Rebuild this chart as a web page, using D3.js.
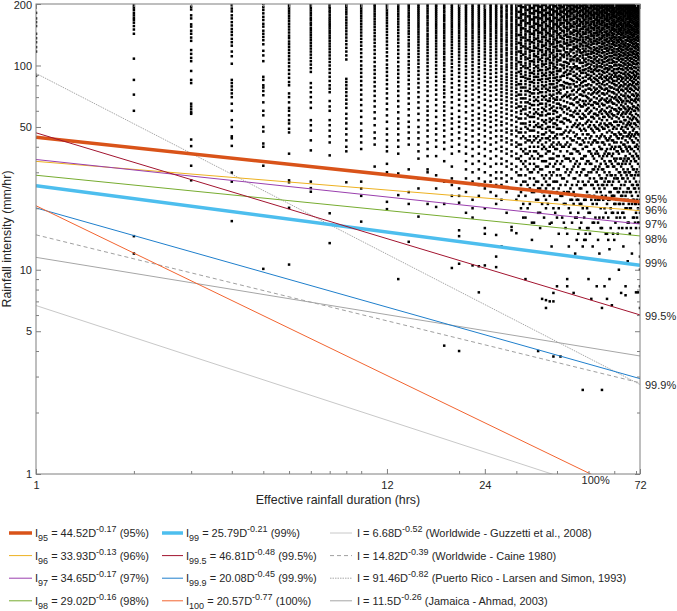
<!DOCTYPE html>
<html>
<head>
<meta charset="utf-8">
<script src="https://cdn.jsdelivr.net/npm/d3@7"></script>
<style>
body{margin:0;background:#fff}
text{font-family:"Liberation Sans",Arial,sans-serif;fill:#262626}
</style>
</head>
<body>
<svg width="677" height="611"></svg>
<script>
// fitted threshold lines  I = a * D^b
const fitLabels = ['95','96','97','98','99','99.5','99.9','100'];
const fitA = [44.52,33.93,34.65,29.02,25.79,46.81,20.08,20.57];
const fitB = [-0.17,-0.13,-0.17,-0.16,-0.21,-0.48,-0.45,-0.77];
// published thresholds
const refA = ['6.68','14.82','91.46','11.5'];
const refB = [-0.52,-0.39,-0.82,-0.26];
const refNames = ['Worldwide - Guzzetti et al., 2008','Worldwide - Caine 1980',
  'Puerto Rico - Larsen and Simon, 1993','Jamaica - Ahmad, 2003'];
const xTicks = [1,12,24,72];
const xMinor = [2,3,4,5,6,7,8,9,10,20,30,40,50,60,70];
const yTicks = [1,5,10,50,100,200];
const yMinor = [2,3,4,6,7,8,9,20,30,40,60,70,80,90];

// observed events: duration (hrs) -> intensities (mm/hr)
const scatterDurations = [1,2,3,4,5,6,7,8,9,10,11,12,13,14,15,16,17,18,19,20,21,22,23,24,
  25,26,27,28,29,30,31,32,33,34,35,36,37,38,39,40,41,42,43,44,45,46,47,48,49,50,
  51,52,53,54,55,56,57,58,59,60,61,62,63,64,65,66,67,68,69,70,71,72,
  30.5,31.5,32.5,33.5,34.5,35.5,36.5,37.5,38.5,39.5,40.5,41.5,42.5,43.5,44.5,45.5,
  46.5,47.5,48.5,49.5,50.5,51.5,52.5,53.5,54.5,55.5,56.5,57.5,58.5,59.5,60.5,61.5,
  62.5,63.5,64.5,65.5,66.5,67.5,68.5,69.5,70.5,71.5];
const scatterIntensities = [
"181 170 163 156 143 136 130 123 117 89",
"197 192 187 181 176 171 167 162 156 150 143 108 85 72 60 14.6 12",
"194 188 176 170 159 155 148 143 137 132 119 114 109 105 94 85 82 65 63 61 59 58 43.4 40.3 32.3 27.4",
"197 190 184 176 170 163 157 151 146 141 135 130 125 117 111 102 85 82 79 76 73 70 65 60 54 50 45 44 40.4 29.9 27 17.3",
"200 193 187 180 173 167 160 155 148 143 138 133 127 118 112 105 88 85 80 78 75 71.5 66 60 57 50 47.5 41.5 40 32.3 10.1",
"200 195 190 185 180 175 170 165 160 155 150 145 140 136 131 127 123 119 115 111 107 103 99 95 91 87 83 80 73 70 66 62 60 57 54 52 49 47 37 27.4 26.8 20.1 10.6",
"200 196 191 186 181 176 171 167 162 158 153 149 145 141 137 133 129 125 121 117 113 109 105 101 97 93 82 78 74 70 66 62 54 51 48 43 38.4 27 25.1 24.1",
"200 195 191 186 182 177 172 168 164 160 156 152 148 144 140 136 132 128 124 120 116 112 108 104 100 96 92 88 84 80 77 74 67 63 60 54 51 48 45 42 36.3 18.9 13.5",
"198 193 188 183 178 172 167 162 157 152 147 142 137 132 127 122 117 112 107 86 83 80 77 74 71 68 65 62 58 55 52 49 46 43 40 38 26.8",
"200 195 190 185 180 175 170 165 160 155 150 145 140 135 130 125 120 115 110 105 100 96 92 88 84 80 76 72 68 64 60 56 52 48 45 42 39 27 25 23 17.2",
"198 194 189 184 179 174 169 164 159 154 149 144 139 134 129 124 119 114 109 104 99 95 91 87 83 79 75 71 67 63 59 55 51 47 44 41 32",
"200 196 191 186 181 176 171 166 161 156 151 146 141 136 131 126 121 116 111 106 101 97 93 89 85 81 77 73 69 65 61 57 53 49 46 43 40 38 33 30 21.5 19.8",
"199 194 189 184 179 174 169 164 159 154 149 144 139 134 129 124 119 114 109 104 99 95 91 87 83 79 75 71 67 63 59 55 52 49 46 43 40 37 29.6 23.2 9",
"200 196 191 186 181 176 172 167 162 157 152 147 143 138 133 128 124 119 114 110 105 101 97 93 89 85 81 77 73 69 65 61 57 53 50 47 44 41 31 24 21 13.7",
"198 194 190 186 182 178 174 170 166 162 158 154 150 146 142 138 134 130 126 122 118 114 110 106 102 98 94 90 86 82 78 74 70 66 62 58 54 50 47 44 41 38 35 28 25 18.2",
"200 195 190 185 180 175 171 166 161 157 152 148 143 139 135 131 127 123 119 115 111 107 103 99 95 91 87 83 79 75 71 67 63 60 57 54 51 48 45 42 39 36 31 30 21",
"199 196 192 188 184 180 176 172 168 164 160 156 152 148 144 140 136 132 128 124 120 116 112 108 104 100 96 92 88 84 80 76 72 68 64 60 56 52 49 46 43 40 36 29 25 20.3",
"200 195 191 186 182 177 173 169 165 160 156 152 148 144 140 136 132 128 125 121 117 114 110 107 103 100 96 93 89 86 83 79 76 73 70 66 63 60 57 54 51 48 45 42 39 34 27 21 4.25",
"198 194 190 186 182 178 174 170 166 162 158 154 150 146 142 138 134 130 126 122 118 114 110 106 102 98 94 90 86 82 78 74 70 66 62 58 55 52 49 46 43 40 37 32 28 26 23 10.2",
"200 196 192 188 184 180 176 172 168 164 160 156 152 148 144 140 136 132 128 124 120 116 112 108 104 100 96 92 88 84 80 76 72 68 64 60 56 53 50 47 44 41 38 25 23 21.3 15.6 14.6 10.7 4",
"199 195 191 187 183 179 175 171 167 163 159 155 151 147 143 139 135 131 127 123 119 115 111 107 103 99 95 91 87 83 79 75 71 67 63 59 55 52 49 46 43 40 37 34 31 28 24 19",
"200 196 192 188 184 180 176 172 168 164 160 156 152 148 144 140 136 132 128 124 120 116 112 108 104 100 96 92 88 84 80 76 72 68 64 60 57 54 51 48 45 42 39 36 33 30 27 22 20 18 10.5",
"198 194 190 186 182 178 174 170 166 162 158 154 150 146 142 138 134 130 126 122 118 114 110 106 102 98 94 90 86 82 78 74 70 66 62 58 55 52 49 46 43 40 37 34 31 28 26 23 10.4 7.75",
"200 196 192 188 184 180 176 172 168 164 160 156 152 148 144 140 136 132 128 124 120 116 112 108 104 100 96 92 88 84 80 76 72 68 64 60 57 54 51 48 45 42 39 36 33 30 27 25 20 16 15 10.5",
"199 195 191 187 183 179 175 171 167 163 159 155 151 147 143 139 135 131 127 123 119 115 111 107 103 99 95 91 87 83 79 75 71 67 63 59 56 53 50 47 44 41 38 35 32 29 27 24",
"200 196 192 188 184 180 176 172 168 164 160 156 152 148 144 140 136 132 128 124 120 116 112 108 104 100 96 92 88 84 80 76 72 68 64 60 57 54 51 48 45 42 39 36 33 30 28 26 23 21 14.8 11.6 10.3",
"199 194 190 185 181 176 173 168 164 159 155 151 147 143 139 135 132 128 124 120 117 113 110 106 103 99 96 93 89 86 83 80 77 74 71 68 65 62 59 56 53 51 48 45 43 40 38 35 33 30 28 26 22 13",
"197 193 188 184 179 175 171 166 162 158 154 150 145 141 137 133 130 126 122 119 115 112 108 105 101 98 95 91 88 85 82 79 76 73 70 67 64 61 58 55 52 49 47 44 42 39 37 34 32 29 27 24 19",
"200 195 191 187 182 178 173 169 165 160 156 152 148 144 140 136 132 128 125 121 117 114 110 107 103 100 97 93 90 87 84 81 78 75 72 69 66 63 60 57 54 51 48 46 43 41 38 36 33 31 28 16.2 15.6",
"198 194 189 185 180 176 172 167 163 159 155 151 147 143 139 135 131 127 123 120 116 113 109 106 102 99 96 92 89 86 83 80 77 74 71 68 65 62 59 56 53 50 48 45 42 40 37 35 32 30 27 25 22 15.1",
"200 196 192 187 183 178 174 170 165 161 157 153 149 145 141 137 133 129 126 122 118 115 111 108 104 101 97 94 91 88 84 81 78 75 72 69 66 63 60 58 55 52 49 47 44 41 39 36 34 31 29 26 24 20",
"199 194 190 186 181 177 172 168 164 160 156 151 147 143 140 136 132 128 124 121 117 114 110 107 103 100 97 93 90 87 84 81 78 75 72 69 66 63 61 58 55 52 50 47 44 42 39 37 34 32 29 27 23 18 9",
"197 193 189 184 180 175 171 167 163 159 154 150 146 142 138 134 131 127 123 119 116 112 109 105 102 99 95 92 89 86 83 80 77 74 71 68 65 62 59 56 53 51 48 45 43 40 38 35 33 30 28 25 21",
"200 195 191 186 182 178 173 169 165 161 157 153 148 144 141 137 133 129 125 122 118 114 111 107 104 101 97 94 91 88 85 82 79 76 73 70 67 64 61 58 56 53 50 48 45 43 40 38 35 33 31 28 26 24 17",
"198 194 189 185 181 176 172 168 164 160 156 152 148 144 140 136 132 128 125 121 117 114 110 107 104 100 97 94 91 88 85 82 79 76 73 70 67 64 61 58 55 52 50 47 45 42 40 37 35 32 30 27 25 22 19 4",
"200 196 191 187 182 178 174 170 166 161 157 153 149 145 142 138 134 130 126 123 119 116 112 109 105 102 99 95 92 89 86 83 80 77 74 71 68 65 62 59 57 54 51 49 46 44 41 39 36 34 31 29 26 24 21 7.2",
"199 195 190 186 181 177 173 169 165 160 156 152 148 145 141 137 133 129 126 122 118 115 112 108 105 102 98 95 92 89 86 83 80 77 74 71 68 65 63 60 57 54 52 49 47 44 42 39 37 34 32 29 27 25 22 20 7.1 6.5",
"197 193 189 184 180 176 171 167 163 159 155 151 147 143 139 135 131 128 124 120 117 113 110 106 103 100 97 93 90 87 84 81 78 75 72 69 67 64 61 58 55 53 50 48 45 43 40 38 35 33 30 28 26 23 16.8 7",
"200 196 192 187 183 179 174 170 166 162 158 154 150 146 142 138 134 130 127 123 119 116 112 109 106 102 99 96 93 90 87 84 81 78 75 72 69 66 63 60 58 55 52 50 47 44 42 40 37 35 32 30 27 25 20 7.7 7 3.76",
"198 194 190 185 181 177 172 168 164 160 156 152 148 144 140 136 132 129 125 121 118 114 111 107 104 101 97 94 91 88 85 82 79 76 73 70 68 65 62 59 56 54 51 49 46 44 41 39 36 34 31 29 27 24 22 18 8.3",
"200 198 195 191 186 183 178 176 170 166 161 158 152 150 144 139 137 131 126 124 118 114 109 106 101 96 94 88 85 80 76 73 68 64 62 57 53 49 46 41 38 33 29 26 23 3.76",
"199 196 193 188 185 180 174 171 167 162 157 154 148 145 140 135 131 128 122 119 113 110 104 100 97 92 89 83 79 77 71 67 63 59 55 52 47 44 40 36 32 28 24 21 17",
"200 197 192 190 184 181 177 173 168 164 160 155 151 147 142 138 133 129 125 121 116 112 108 103 99 95 90 87 82 78 74 70 66 61 58 54 50 45 42 38 35 31 27 24 15 9 8.3",
"198 195 191 187 183 179 174 169 166 160 156 153 146 143 138 134 130 126 120 117 111 107 105 98 94 91 86 81 78 72 69 65 60 57 53 48 44 41 37 34 30 25 22 19",
"200 197 194 189 186 182 176 172 169 163 159 154 149 146 141 136 132 127 123 120 115 110 106 102 98 93 89 84 81 76 72 68 64 59 56 51 47 43 39 35 32 28 24 21 7.7",
"199 196 192 188 184 178 175 170 165 162 156 152 148 143 139 134 130 125 122 117 113 108 105 99 96 91 87 83 79 74 70 66 62 58 54 50 46 42 38 34 30 26 22 18 14",
"200 198 194 191 185 182 177 174 168 165 160 156 150 147 142 137 133 128 124 119 116 111 106 103 97 94 89 85 80 77 72 68 64 60 56 52 49 44 41 37 33 29 25 21 16",
"197 194 190 186 182 177 173 170 164 160 155 151 146 142 137 133 130 125 121 116 112 109 103 99 95 92 87 83 79 75 71 67 63 58 55 51 46 43 39 35 31 27 23 20 13 2.58",
"200 197 193 189 185 181 176 172 168 163 159 155 150 146 143 138 134 129 125 121 117 113 108 104 100 96 92 88 84 80 76 71 67 64 60 56 52 48 44 40 36 33 29 26 22 15 14",
"199 195 192 187 183 179 175 170 166 162 157 153 149 145 140 136 131 127 123 118 114 110 106 102 97 94 90 86 81 77 73 69 65 62 58 54 50 46 42 38 34 30 27 23 19 16 9",
"200 196 193 190 184 180 177 172 169 164 160 155 152 147 143 139 134 130 126 121 117 114 109 105 101 96 93 89 85 80 76 72 68 64 60 56 53 49 45 41 37 33 30 26 22 7.2",
"198 195 191 188 182 178 175 171 165 161 158 153 149 144 140 136 132 128 123 119 115 111 107 103 99 95 91 87 83 78 74 70 66 62 58 55 51 47 43 39 35 31 28 25 23 17",
"200 197 194 189 186 182 178 173 169 166 161 157 152 148 144 140 135 131 127 122 118 114 110 105 101 98 94 89 85 81 77 73 69 65 61 57 53 49 45 42 38 34 30 27 24 21 8.3",
"199 196 192 188 184 180 176 172 167 163 159 154 150 146 142 137 133 129 124 120 116 112 107 103 99 95 91 87 82 79 75 71 67 63 59 55 51 48 44 40 36 32 29 25 22 18 12",
"200 197 193 190 185 181 178 174 170 165 161 157 152 149 144 140 136 131 127 123 119 115 110 106 102 98 94 90 86 81 77 73 69 65 61 58 54 50 46 42 39 35 31 28 26 23 16 6.5 2.58",
"198 195 192 187 183 180 175 171 167 162 158 155 150 146 141 137 133 129 125 121 116 112 108 104 100 96 92 88 84 80 76 72 68 64 60 56 52 49 45 41 37 34 30 27 25 20 8.3",
"200 197 193 189 186 182 177 173 169 165 160 156 152 147 143 139 135 131 126 122 118 114 110 105 101 97 93 89 85 81 77 73 69 66 62 58 54 51 47 43 39 36 32 29 26 21 15 7.2",
"199 196 192 188 185 179 176 172 168 163 159 154 150 145 141 137 132 128 124 120 115 111 107 103 99 96 91 87 83 79 75 71 67 63 59 56 52 48 44 41 37 34 30 27 24 22 12.6 9",
"200 198 194 190 186 182 178 174 170 166 161 157 153 149 144 140 136 132 127 123 119 115 111 107 103 98 94 90 86 82 78 74 70 66 62 58 55 51 47 43 40 36 33 29 26 23 19 6.7",
"199 196 193 189 184 181 176 173 168 164 160 156 151 147 143 138 134 130 126 121 117 113 109 104 100 96 92 88 84 81 77 73 69 65 61 57 53 50 46 42 39 35 32 28 25 23 21 14",
"200 197 194 190 187 183 178 175 171 166 163 158 154 150 146 141 137 133 129 125 120 116 112 108 104 100 96 92 88 84 80 76 72 68 64 60 56 53 49 45 42 38 35 31 28 25 22 18",
"198 196 192 188 184 180 176 171 168 164 159 155 151 147 143 138 134 130 126 122 118 114 110 106 101 97 93 89 86 82 78 74 70 66 62 59 55 51 47 44 40 37 33 30 27 24 21 16 10",
"200 197 194 190 186 182 179 174 170 166 162 158 153 149 145 141 137 133 128 124 120 116 112 108 104 100 96 92 88 84 80 76 72 68 64 61 57 53 49 46 42 39 35 32 29 26 23 7.7",
"199 197 193 189 185 181 177 173 169 165 160 156 152 148 144 140 136 131 127 123 119 115 111 107 103 99 95 91 87 83 79 75 71 67 63 59 56 52 48 45 41 38 34 31 28 24 21 19 13",
"200 198 194 190 187 183 179 175 170 166 162 158 154 150 146 142 138 133 129 125 121 117 113 109 105 101 97 93 89 85 81 77 73 69 65 61 58 54 50 47 43 40 36 33 30 27 23 20 8.3 7.5",
"199 196 193 189 185 181 177 173 169 164 160 156 152 148 144 140 136 132 127 123 119 115 111 107 103 99 95 91 87 83 79 75 71 67 63 60 56 52 49 45 42 38 35 31 28 25 22 17 11",
"200 197 194 191 187 183 179 175 171 167 163 158 154 150 146 142 138 134 130 126 121 117 113 109 105 101 97 93 89 85 81 77 74 70 66 62 58 55 51 47 44 40 37 33 30 27 24 20 15",
"199 196 193 189 186 182 178 174 170 166 162 157 153 149 145 141 137 133 129 124 120 116 112 108 104 100 96 92 88 84 80 76 72 68 65 61 57 54 50 46 43 39 36 32 29 26 23 21 12",
"200 198 194 191 187 184 180 176 172 168 164 160 155 151 147 143 139 135 131 127 123 118 114 110 106 102 98 94 90 86 83 79 75 71 67 63 60 56 52 49 45 42 38 35 31 28 25 22 18",
"199 197 193 190 186 182 178 174 170 166 162 158 154 150 146 142 137 133 129 125 121 117 113 109 105 101 97 93 89 85 81 77 73 69 66 62 58 55 51 47 44 40 37 34 30 27 24 21 19 16 7.75",
"200 198 195 191 188 184 180 176 172 168 164 160 156 152 148 144 140 136 132 127 123 119 115 111 107 103 99 95 91 87 83 80 76 72 68 64 61 57 53 50 46 43 39 36 33 29 26 23 20 17 7.75",
"199 196 193 189 186 182 178 174 170 166 162 158 154 150 146 142 138 134 130 126 122 118 114 110 106 102 98 94 90 86 82 78 74 71 67 63 60 56 52 49 45 42 38 35 32 29 27 24 22 19 16 13.5 11.6 10 8.3 6.5",
"196 183 171 158 141 129 117 104 93 81 72 63 55 47 41 35 29 23",
"193 178 166 152 137 124 113 99 88 78 69 61 52 45 38 33 27 21 18",
"199 187 174 161 147 133 121 108 97 86 75 66 57 49 43 37 31 26 20",
"191 180 168 155 143 130 118 105 92 83 73 64 56 48 42 36 30 24 17 14",
"197 185 172 160 149 135 122 111 99 88 77 68 59 51 44 38 32 27 22",
"194 182 170 157 145 131 119 107 95 85 74 65 57 50 43 36 31 25 19 16",
"198 186 176 163 150 138 125 113 101 90 79 70 61 53 46 40 34 28 23 18",
"192 181 169 156 144 132 120 108 96 86 76 67 58 50 44 38 32 26 21",
"199 188 177 165 152 140 127 115 103 92 81 71 62 54 47 41 35 29 24 17 13",
"195 184 171 159 147 134 123 110 98 87 78 68 60 52 45 39 33 27 22 19",
"197 190 179 167 155 142 130 118 106 94 84 74 65 56 49 42 36 31 25 20 15",
"193 183 173 161 148 136 124 112 100 89 80 70 61 53 46 40 34 28 23 18",
"199 188 178 166 153 141 128 116 104 93 82 72 63 55 48 41 35 30 26 21 16",
"196 185 174 162 150 138 126 114 102 91 81 71 62 54 47 40 35 29 24 20 13",
"198 189 180 168 156 144 131 119 107 96 85 75 65 57 50 43 37 31 26 22 17",
"194 184 172 160 148 135 123 111 99 89 79 69 60 52 45 39 33 28 23 18 12",
"200 191 181 169 157 145 133 120 108 97 86 76 66 58 51 44 38 32 27 22 19 15",
"196 186 175 163 151 139 127 115 103 92 82 72 63 55 48 41 35 30 25 21 17",
"198 190 179 167 155 143 130 118 106 95 84 74 65 57 49 42 36 31 26 22 18 14",
"194 185 174 162 150 137 125 113 101 90 80 70 61 53 46 40 34 29 24 20 16",
"199 191 181 170 158 146 134 122 110 98 87 77 67 59 51 44 38 33 28 23 19 15",
"195 186 176 164 152 140 128 116 104 93 83 73 64 56 48 42 36 31 26 21 17 13",
"198 190 180 168 156 144 132 120 108 96 86 76 66 58 50 43 37 32 27 22 18",
"196 187 177 165 153 141 129 117 105 94 84 74 65 57 49 42 37 31 26 22 17 14",
"200 192 182 171 159 147 135 123 111 99 88 78 68 60 52 45 39 33 28 24 20 16",
"194 186 176 164 152 140 128 116 104 93 83 73 64 56 49 42 36 31 26 22 18",
"198 190 181 169 157 145 133 121 109 97 87 77 67 59 51 44 38 33 28 23 19 15",
"196 188 178 166 154 142 130 118 106 95 85 75 66 57 50 43 37 32 27 22 18 14",
"199 192 183 171 159 147 135 123 111 99 88 78 68 60 52 45 39 34 29 24 20 16",
"195 187 177 165 153 141 129 117 105 94 84 74 65 57 49 43 37 32 27 23 19 15",
"200 193 184 173 161 149 137 125 113 101 90 80 70 61 53 46 40 34 29 25 21 17",
"197 189 180 168 156 144 132 120 108 96 86 76 67 58 51 44 38 33 28 24 19 15",
"199 192 183 172 160 148 136 124 112 100 89 79 69 61 53 46 40 35 30 25 21 18",
"196 188 179 167 155 143 131 119 107 96 86 76 66 58 50 44 38 33 28 23 19 16",
"200 193 185 174 162 150 138 126 114 102 91 81 71 62 54 47 41 35 30 26 22 18",
"197 190 181 169 157 145 133 121 109 97 87 77 67 59 51 45 39 34 29 24 20 16",
"199 192 184 173 161 149 137 125 113 101 90 80 70 61 53 46 40 35 30 25 21 17",
"196 189 180 168 156 144 132 120 108 97 87 77 68 59 52 45 39 34 29 24 20 16",
"200 194 186 175 163 151 139 127 115 103 92 82 72 63 55 48 42 36 31 26 22 18",
"197 190 182 170 158 146 134 122 110 98 88 78 68 60 52 46 40 34 29 25 21 17",
"199 193 185 174 162 150 138 126 114 102 91 81 71 62 54 47 41 36 31 26 22 18",
"196 190 181 169 157 145 133 121 109 98 88 78 69 60 53 46 40 35 30 25 21 17"
];

const svg = d3.select('svg');
const W = 677, H = 611;
const box = {left:36, right:640, top:4, bottom:474};
const font = '"Liberation Sans",Arial,sans-serif';

svg.append('rect').attr('width',W).attr('height',H).attr('fill','#fff');

const x = d3.scaleLog().domain([1,72]).range([box.left, box.right]);
const y = d3.scaleLog().domain([1,200]).range([box.bottom, box.top]);

svg.append('clipPath').attr('id','plotclip').append('rect')
  .attr('x',box.left).attr('y',box.top)
  .attr('width',box.right-box.left).attr('height',box.bottom-box.top);

// scatter of events
const points = [];
scatterDurations.forEach((d,i)=>{
  scatterIntensities[i].split(' ').forEach(v=>points.push([d,+v]));
});
svg.append('g').attr('clip-path','url(#plotclip)')
  .selectAll('rect').data(points).join('rect')
  .attr('x',d=>x(d[0])-1.25).attr('y',d=>y(d[1])-1.25)
  .attr('width',2.5).attr('height',2.5).attr('fill','#000');

// line styles
const fitColors = ['#d95319','#edb120','#9a3fae','#77ac30','#4dbeee','#a2142f','#1f7fcc','#f26430'];
const fitWidths = [3.5,1,1,1,3.5,1,1,1];
const refColors = ['#c8c8c8','#a0a0a0','#a8a8a8','#a6a6a6'];
const refDash = [null,'4,3','1.5,1',null];

const line = d3.line().x(d=>x(d[0])).y(d=>y(d[1]));
const ends = (a,b)=>[[1,a],[72,a*Math.pow(72,b)]];

const gl = svg.append('g').attr('clip-path','url(#plotclip)');
refA.forEach((a,i)=>{
  gl.append('path').attr('d',line(ends(+a,refB[i])))
    .attr('fill','none').attr('stroke',refColors[i]).attr('stroke-width',1)
    .attr('stroke-dasharray',refDash[i]);
});
fitA.forEach((a,i)=>{
  gl.append('path').attr('d',line(ends(a,fitB[i])))
    .attr('fill','none').attr('stroke',fitColors[i]).attr('stroke-width',fitWidths[i]);
});

// axes box + ticks (inward, all four sides)
const axisCol = '#7f7f7f';
function ticks(axis, tr, vals, len, pad){
  const g = svg.append('g').attr('transform',tr)
    .call(axis.tickValues(vals).tickSizeInner(-len).tickSizeOuter(0)
      .tickPadding(pad===undefined?3:pad)
      .tickFormat(pad===undefined?'':d3.format('d')));
  g.select('.domain').remove();
  g.selectAll('line').attr('stroke',axisCol);
  g.selectAll('text').attr('font-family',font).attr('font-size',11).attr('fill','#262626');
  return g;
}
const yLab = ticks(d3.axisLeft(y), `translate(${box.left},0)`, yTicks, 5, 4);
yLab.selectAll('text').filter(d=>d===200).attr('dy','0.45em');
ticks(d3.axisLeft(y), `translate(${box.left},0)`, yMinor, 3);
ticks(d3.axisRight(y), `translate(${box.right},0)`, yTicks, 5);
ticks(d3.axisRight(y), `translate(${box.right},0)`, yMinor, 3);
ticks(d3.axisBottom(x), `translate(0,${box.bottom})`, xTicks, 5, 7);
ticks(d3.axisBottom(x), `translate(0,${box.bottom})`, xMinor, 3);
ticks(d3.axisTop(x), `translate(0,${box.top})`, xTicks, 5);
ticks(d3.axisTop(x), `translate(0,${box.top})`, xMinor, 3);

svg.append('rect').attr('x',box.left).attr('y',box.top)
  .attr('width',box.right-box.left).attr('height',box.bottom-box.top)
  .attr('fill','none').attr('stroke',axisCol).attr('stroke-width',1);

// axis titles
svg.append('text').attr('x',(box.left+box.right)/2).attr('y',504)
  .attr('text-anchor','middle').attr('font-size',12.4)
  .text('Effective rainfall duration (hrs)');
svg.append('text').attr('transform',`translate(11,${(box.top+box.bottom)/2}) rotate(-90)`)
  .attr('text-anchor','middle').attr('font-size',12.4)
  .text('Rainfall intensity (mm/hr)');

// percentile labels at the right end of each fitted line
const nudge = [-3,-0.5,0,3,-2.5,1.5,6];
fitLabels.slice(0,7).forEach((l,i)=>{
  svg.append('text').attr('x',box.right+5)
    .attr('y',y(fitA[i]*Math.pow(72,fitB[i]))+nudge[i]+4)
    .attr('font-size',11).text(l+'%');
});
// 100% line leaves through the bottom axis
const hit100 = Math.pow(1/fitA[7],1/fitB[7]);
svg.append('text').attr('x',x(hit100)-9).attr('y',484)
  .attr('font-size',11).text(fitLabels[7]+'%');

// legend
const rowY = [533,555.6,578.2,600.8];
const cols = [{x0:9,x1:32,tx:35},{x0:162,x1:183,tx:186},{x0:330,x1:352,tx:357}];
function legendText(c,r,parts){
  const t = svg.append('text').attr('x',c.tx).attr('y',rowY[r]+4).attr('font-size',11);
  let shift = 0;
  parts.forEach(p=>{
    const s = t.append('tspan').text(p.t);
    const target = p.sub ? 4 : p.sup ? -5 : 0;
    s.attr('dy',target-shift);
    shift = target;
    if(p.sub||p.sup) s.attr('font-size',9);
  });
}
fitLabels.forEach((l,i)=>{
  const c = cols[Math.floor(i/4)], r = i%4;
  svg.append('line').attr('x1',c.x0).attr('x2',c.x1).attr('y1',rowY[r]).attr('y2',rowY[r])
    .attr('stroke',fitColors[i]).attr('stroke-width',fitWidths[i]);
  legendText(c,r,[{t:'I'},{t:l,sub:true},{t:' = '+fitA[i].toFixed(2)+'D'},
    {t:fitB[i].toFixed(2),sup:true},{t:' ('+l+'%)'}]);
});
refA.forEach((a,i)=>{
  const c = cols[2];
  svg.append('line').attr('x1',c.x0).attr('x2',c.x1).attr('y1',rowY[i]).attr('y2',rowY[i])
    .attr('stroke',refColors[i]).attr('stroke-width',1).attr('stroke-dasharray',refDash[i]);
  legendText(c,i,[{t:'I = '+a+'D'},{t:refB[i].toFixed(2),sup:true},{t:' ('+refNames[i]+')'}]);
});
</script>
</body>
</html>
